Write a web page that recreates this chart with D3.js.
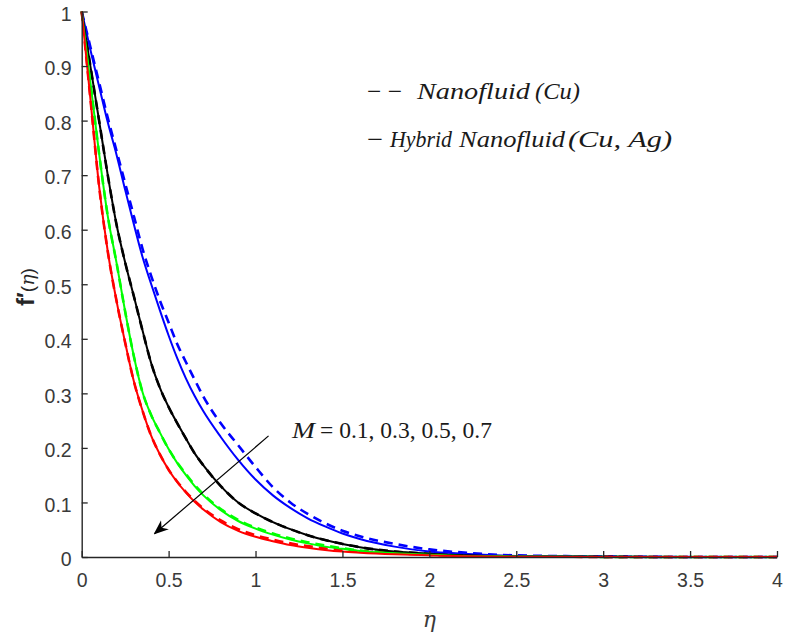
<!DOCTYPE html>
<html><head><meta charset="utf-8">
<script src="https://cdn.jsdelivr.net/npm/d3@7"></script>
<style>html,body{margin:0;padding:0;background:#fff;}</style>
</head><body>
<svg id="chart" width="786" height="635"></svg>
<script>
// eta grid
const eta = [0,0.05,0.1,0.15,0.2,0.25,0.3,0.35,0.4,0.45,0.5,0.55,0.6,0.65,0.7,0.8,0.9,1.0,1.1,1.2,1.3,1.4,1.5,1.6,1.8,2.0,2.2,2.5,3.0,3.5,4.0];
// Hybrid nanofluid (solid)
const blueSolid  = [1,0.93,0.863,0.797,0.738,0.673,0.61,0.55,0.50,0.452,0.406,0.364,0.327,0.295,0.267,0.22,0.178,0.142,0.113,0.09,0.071,0.056,0.043,0.033,0.019,0.010,0.006,0.002,0.0005,0,0];
const blackSolid = [1,0.90,0.80,0.70,0.61,0.54,0.478,0.415,0.355,0.31,0.275,0.245,0.217,0.19,0.168,0.13,0.10,0.08,0.064,0.051,0.04,0.031,0.024,0.018,0.010,0.006,0.003,0.001,0.0003,0,0];
const greenSolid = [1,0.87,0.74,0.625,0.54,0.45,0.368,0.302,0.26,0.228,0.198,0.172,0.15,0.13,0.113,0.086,0.066,0.052,0.041,0.032,0.025,0.019,0.015,0.011,0.007,0.004,0.002,0.001,0.0002,0,0];
const redSolid   = [1,0.84,0.68,0.56,0.47,0.393,0.322,0.268,0.222,0.188,0.16,0.137,0.118,0.101,0.087,0.064,0.048,0.037,0.029,0.022,0.017,0.013,0.010,0.008,0.005,0.003,0.0015,0.0005,0.0001,0,0];
// Nanofluid (dashed)
const blueDash   = [1,0.935,0.87,0.805,0.745,0.685,0.625,0.565,0.515,0.47,0.43,0.39,0.357,0.325,0.294,0.245,0.205,0.165,0.128,0.10,0.079,0.062,0.048,0.038,0.024,0.014,0.008,0.003,0.001,0,0];
const blackDash  = [1,0.90,0.80,0.70,0.61,0.54,0.478,0.415,0.355,0.31,0.275,0.245,0.217,0.19,0.168,0.13,0.10,0.08,0.064,0.051,0.04,0.031,0.024,0.018,0.010,0.006,0.003,0.001,0.0003,0,0];
const greenDash  = [1,0.87,0.74,0.625,0.54,0.45,0.368,0.302,0.26,0.228,0.198,0.173,0.152,0.132,0.115,0.088,0.068,0.054,0.043,0.034,0.027,0.021,0.016,0.012,0.008,0.005,0.003,0.001,0.0003,0,0];
const redDash    = [1,0.84,0.68,0.56,0.47,0.393,0.322,0.268,0.222,0.188,0.16,0.138,0.119,0.103,0.089,0.067,0.051,0.040,0.032,0.025,0.020,0.016,0.013,0.010,0.007,0.004,0.002,0.001,0.0002,0,0];

const series = [
  {name:"blueDash", values:blueDash, color:"#0000ff", dash:true},
  {name:"blackDash", values:blackDash, color:"#000000", dash:true},
  {name:"greenDash", values:greenDash, color:"#00ff00", dash:true},
  {name:"redDash", values:redDash, color:"#ff0000", dash:true},
  {name:"blueSolid", values:blueSolid, color:"#0000ff", dash:false},
  {name:"blackSolid", values:blackSolid, color:"#000000", dash:false},
  {name:"greenSolid", values:greenSolid, color:"#00ff00", dash:false},
  {name:"redSolid", values:redSolid, color:"#ff0000", dash:false}
];
const xTicks = [0,0.5,1,1.5,2,2.5,3,3.5,4];
const xTickLabels = ["0","0.5","1","1.5","2","2.5","3","3.5","4"];
const yTicks = [0,0.1,0.2,0.3,0.4,0.5,0.6,0.7,0.8,0.9,1];
const yTickLabels = ["0","0.1","0.2","0.3","0.4","0.5","0.6","0.7","0.8","0.9","1"];
const legendLabels = ["Nanofluid (Cu)", "Hybrid Nanofluid (Cu, Ag)"];
const annotationText = "M = 0.1, 0.3, 0.5, 0.7";

const svg = d3.select("#chart");
svg.append("rect").attr("width",786).attr("height",635).attr("fill","#fff");
const x = d3.scaleLinear().domain([0,4]).range([81.7,777]);
const y = d3.scaleLinear().domain([0,1]).range([557,11.5]);

const line = d3.line().x((d,i)=>x(eta[i])).y(d=>y(d)).curve(d3.curveMonotoneX);

const g = svg.append("g");
series.forEach(s=>{
  g.append("path").datum(s.values)
   .attr("d", line)
   .attr("fill","none")
   .attr("stroke", s.color)
   .attr("stroke-width", s.dash ? 2.6 : 2)
   .attr("stroke-dasharray", s.dash ? "9,6" : null);
});

// axes
const tc = "#3a3a3a";
const xAxis = d3.axisBottom(x).tickValues(xTicks).tickFormat((d,i)=>xTickLabels[i]).tickSizeInner(-6).tickSizeOuter(0).tickPadding(16);
const gx = svg.append("g").attr("transform",`translate(0,${y(0)})`).call(xAxis);
const yAxis = d3.axisLeft(y).tickValues(yTicks).tickFormat((d,i)=>yTickLabels[i]).tickSizeInner(-6).tickSizeOuter(0).tickPadding(10);
const gy = svg.append("g").attr("transform",`translate(${x(0)},0)`).call(yAxis);
[gx,gy].forEach(a=>{
  a.select(".domain").attr("stroke","#262626").attr("stroke-width",1.4);
  a.selectAll(".tick line").attr("stroke","#262626").attr("stroke-width",1.3);
  a.selectAll(".tick text").attr("fill",tc).style("font-family","'Liberation Sans', Arial, sans-serif").style("font-size","19.5px");
});
gy.selectAll(".tick text").attr("dy","0.45em");

// axis labels
svg.append("text").attr("x",x(2)).attr("y",627).attr("text-anchor","middle")
  .style("font-family","'DejaVu Serif', serif").style("font-style","italic").style("font-size","22px").attr("fill",tc).text("η");
const yl = svg.append("text").attr("transform","translate(34,287) rotate(-90)").attr("text-anchor","middle").attr("fill","#262626")
  .style("font-family","'Liberation Sans', Arial, sans-serif");
yl.append("tspan").style("font-weight","bold").style("font-size","24px").text("f′");
yl.append("tspan").style("font-size","19px").text("(");
yl.append("tspan").style("font-size","19px").style("font-style","italic").style("font-family","'DejaVu Serif', serif").text("η");
yl.append("tspan").style("font-size","19px").text(")");

// legend (text segments)
const lf = "'Liberation Serif', 'DejaVu Serif', serif";
function seg(txt, x0, w, yb, italic){
  svg.append("text").attr("x",x0).attr("y",yb).attr("fill","#1a1a1a")
    .style("font-family",lf).style("font-size","23px").style("font-style",italic?"italic":"normal")
    .attr("textLength",w).attr("lengthAdjust","spacingAndGlyphs").text(txt);
}
const yb1 = y(0.84), yb2 = y(0.752);
const l1 = legendLabels[0].split(" "), l2 = legendLabels[1].split(" ");
seg("− −", 367, 35, yb1, false);
seg(l1[0], 417, 113, yb1, true);
seg(l1[1], 535, 45, yb1, true);
seg("−", 367, 16, yb2, false);
seg(l2[0], 390, 62, yb2, true);
seg(l2[1], 459, 106, yb2, true);
seg(l2[2]+" "+l2[3], 568, 104, yb2, true);

// annotation
const ab = y(0.218);
seg(annotationText.slice(0,1), 292, 23, ab, true);
seg(annotationText.slice(2), 320, 172, ab, false);

svg.append("defs").append("marker").attr("id","arr").attr("viewBox","0 0 10 10").attr("refX",9).attr("refY",5)
  .attr("markerWidth",15).attr("markerHeight",15).attr("markerUnits","userSpaceOnUse").attr("orient","auto")
  .append("path").attr("d","M0,1 L10,5 L0,9 L3,5 Z").attr("fill","#000");
svg.append("line").attr("x1",x(1.075)).attr("y1",y(0.222)).attr("x2",x(0.42)).attr("y2",y(0.043))
  .attr("stroke","#000").attr("stroke-width",1.2).attr("marker-end","url(#arr)");
</script>
</body></html>
